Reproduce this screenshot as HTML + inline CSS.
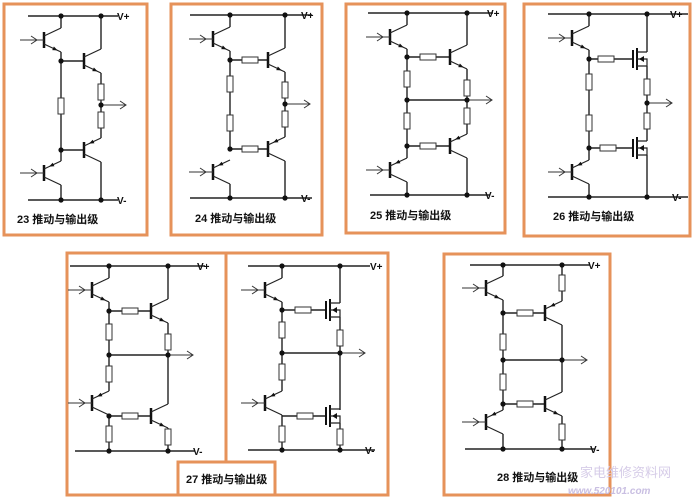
<!DOCTYPE html>
<html><head><meta charset="utf-8"><style>
html,body{margin:0;padding:0;background:#fff;}
svg{display:block;}
text{font-family:"Liberation Sans","Noto Sans CJK SC",sans-serif;fill:#111;}
</style></head><body>
<svg width="693" height="499" viewBox="0 0 693 499" xmlns="http://www.w3.org/2000/svg">
<defs>
<g id="q"><line x1="0" y1="-8" x2="0" y2="8" stroke="#111" stroke-width="2.5"/><polyline points="17,-12 0,-4" fill="none" stroke="#222" stroke-width="1.2"/><polyline points="0,4 17,12" fill="none" stroke="#222" stroke-width="1.2"/><polygon points="13.6,10.4 8.2,10.1 9.9,6.5" fill="#111"/></g>
<g id="p"><line x1="0" y1="-8" x2="0" y2="8" stroke="#111" stroke-width="2.5"/><polyline points="17,-12 0,-4" fill="none" stroke="#222" stroke-width="1.2"/><polyline points="0,4 17,12" fill="none" stroke="#222" stroke-width="1.2"/><polygon points="5,-6.4 10.4,-6.7 8.7,-10.3" fill="#111"/></g>
<g id="m"><line x1="0" y1="-9" x2="0" y2="9" stroke="#111" stroke-width="2"/><line x1="4" y1="-11" x2="4" y2="11" stroke="#111" stroke-width="2"/><path d="M4,-7H14M4,7H14M4,0H14V7" fill="none" stroke="#222" stroke-width="1.2"/><polygon points="6,0 11,-3 11,3" fill="#111"/></g>
<rect id="rv" x="-3" y="-8" width="6" height="16" fill="#fff" stroke="#333" stroke-width="1"/>
<rect id="rh" x="-8" y="-3" width="16" height="6" fill="#fff" stroke="#333" stroke-width="1"/>
<circle id="d" r="2.6" fill="#111"/>
<g id="in"><line x1="-24" y1="0" x2="0" y2="0" stroke="#333" stroke-width="1"/><polyline points="-13,-4 -7,0 -13,4" fill="none" stroke="#333" stroke-width="1"/></g>
<g id="out"><line x1="0" y1="0" x2="25" y2="0" stroke="#333" stroke-width="1"/><polyline points="19,-4 25,0 19,4" fill="none" stroke="#333" stroke-width="1"/></g>
</defs>

<g fill="none" stroke="#e6925a" stroke-width="3">
<rect x="4" y="4" width="143" height="231"/>
<rect x="171" y="4" width="151" height="231"/>
<rect x="346" y="4" width="159" height="229"/>
<rect x="524" y="4" width="166" height="232"/>
<rect x="67" y="253" width="159" height="242"/>
<rect x="226" y="253" width="162" height="242"/>
<rect x="444" y="254" width="166" height="241"/>
</g>
<rect x="178" y="462" width="97" height="33" fill="#fff" stroke="#e6925a" stroke-width="3"/>

<g stroke="#222" stroke-width="1.4" fill="none">
<path d="M28,16H118M28,200H118M61,16V28M61,52V150M61,61H84M101,16V49M101,73V138M61,150H84M61,161V150M61,185V200M101,162V200"/>
<path d="M190,15H312M190,198H312M230,15V27M230,51V149M230,60H268M285,15V48M285,72V137M230,149H268M230,184V198M285,161V198"/>
<path d="M368,13H493M370,195H490M407,13V25M407,49V158M407,57H450M467,13V45M467,69V134M407,100H467M407,146H450M407,182V195M467,158V195"/>
<path d="M548,14H688M548,197H688M589,14V26M589,50V160M589,59H633M647,14V52M647,66V141M589,148H633M589,184V197M647,155V197"/>
<path d="M70,266H205M75,451H195M109,266V278M109,302V391M109,311H151M168,266V299M168,323V404M109,355H168M109,415V451M109,416H151M168,428V451"/>
<path d="M248,266H370M248,450H375M282,266V278M282,302V391M282,310H325M340,266V303M340,317V410M282,353H340M282,415V450M282,416H325M340,423V450"/>
<path d="M470,265H590M465,449H595M503,265V276M503,300V410M503,313H545M562,265V301M562,325V392M503,360H562M503,404H545M503,434V449M562,416V449"/>
</g>

<use href="#q" x="44" y="40"/><use href="#q" x="84" y="61"/><use href="#p" x="84" y="150"/><use href="#p" x="44" y="173"/>
<use href="#in" x="44" y="40"/><use href="#in" x="44" y="173"/>
<use href="#rv" x="101" y="92"/><use href="#rv" x="101" y="120"/><use href="#rv" x="61" y="106"/>
<use href="#out" x="101" y="105"/>
<use href="#d" x="61" y="16"/><use href="#d" x="101" y="16"/><use href="#d" x="61" y="61"/><use href="#d" x="61" y="150"/><use href="#d" x="101" y="105"/><use href="#d" x="61" y="200"/><use href="#d" x="101" y="200"/>

<use href="#q" x="213" y="39"/><use href="#q" x="268" y="60"/><use href="#p" x="268" y="149"/><use href="#p" x="213" y="172"/>
<use href="#in" x="213" y="39"/><use href="#in" x="213" y="172"/>
<use href="#rh" x="250" y="60"/><use href="#rh" x="250" y="149"/><use href="#rv" x="285" y="90"/><use href="#rv" x="285" y="119"/><use href="#rv" x="230" y="84"/><use href="#rv" x="230" y="123"/>
<use href="#out" x="285" y="104"/>
<use href="#d" x="230" y="15"/><use href="#d" x="285" y="15"/><use href="#d" x="230" y="60"/><use href="#d" x="230" y="149"/><use href="#d" x="285" y="104"/><use href="#d" x="230" y="198"/><use href="#d" x="285" y="198"/>

<use href="#q" x="390" y="37"/><use href="#q" x="450" y="57"/><use href="#p" x="450" y="146"/><use href="#p" x="390" y="170"/>
<use href="#in" x="390" y="37"/><use href="#in" x="390" y="170"/>
<use href="#rh" x="428" y="57"/><use href="#rh" x="428" y="146"/><use href="#rv" x="407" y="79"/><use href="#rv" x="407" y="121"/><use href="#rv" x="467" y="88"/><use href="#rv" x="467" y="116"/>
<use href="#out" x="467" y="100"/>
<use href="#d" x="407" y="13"/><use href="#d" x="467" y="13"/><use href="#d" x="407" y="57"/><use href="#d" x="407" y="100"/><use href="#d" x="467" y="100"/><use href="#d" x="407" y="146"/><use href="#d" x="407" y="195"/><use href="#d" x="467" y="195"/>

<use href="#q" x="572" y="38"/><use href="#p" x="572" y="172"/><use href="#m" x="633" y="59"/><use href="#m" x="633" y="148"/>
<use href="#in" x="572" y="38"/><use href="#in" x="572" y="172"/>
<use href="#rh" x="606" y="59"/><use href="#rh" x="608" y="148"/><use href="#rv" x="589" y="82"/><use href="#rv" x="589" y="123"/><use href="#rv" x="647" y="87"/><use href="#rv" x="647" y="121"/>
<use href="#out" x="647" y="103"/>
<use href="#d" x="589" y="14"/><use href="#d" x="647" y="14"/><use href="#d" x="589" y="59"/><use href="#d" x="589" y="148"/><use href="#d" x="647" y="103"/><use href="#d" x="589" y="197"/><use href="#d" x="647" y="197"/>

<use href="#q" x="92" y="290"/><use href="#q" x="151" y="311"/><use href="#p" x="92" y="403"/><use href="#q" x="151" y="416"/>
<use href="#in" x="92" y="290"/><use href="#in" x="92" y="403"/>
<use href="#rh" x="130" y="311"/><use href="#rh" x="130" y="416"/><use href="#rv" x="109" y="332"/><use href="#rv" x="109" y="374"/><use href="#rv" x="168" y="342"/><use href="#rv" x="109" y="434"/><use href="#rv" x="168" y="437"/>
<use href="#out" x="168" y="355"/>
<use href="#d" x="109" y="266"/><use href="#d" x="168" y="266"/><use href="#d" x="109" y="311"/><use href="#d" x="109" y="355"/><use href="#d" x="168" y="355"/><use href="#d" x="109" y="416"/><use href="#d" x="109" y="451"/><use href="#d" x="168" y="451"/>

<use href="#q" x="265" y="290"/><use href="#p" x="265" y="403"/><use href="#m" x="326" y="310"/><use href="#m" x="326" y="416"/>
<use href="#in" x="265" y="290"/><use href="#in" x="265" y="403"/>
<use href="#rh" x="303" y="310"/><use href="#rh" x="305" y="416"/><use href="#rv" x="282" y="330"/><use href="#rv" x="282" y="372"/><use href="#rv" x="340" y="338"/><use href="#rv" x="282" y="434"/><use href="#rv" x="340" y="437"/>
<use href="#out" x="340" y="353"/>
<use href="#d" x="282" y="266"/><use href="#d" x="340" y="266"/><use href="#d" x="282" y="310"/><use href="#d" x="282" y="353"/><use href="#d" x="340" y="353"/><use href="#d" x="282" y="450"/><use href="#d" x="340" y="450"/>

<use href="#q" x="486" y="288"/><use href="#p" x="545" y="313"/><use href="#q" x="545" y="404"/><use href="#p" x="486" y="422"/>
<use href="#in" x="486" y="288"/><use href="#in" x="486" y="422"/>
<use href="#rh" x="525" y="313"/><use href="#rh" x="525" y="404"/><use href="#rv" x="503" y="342"/><use href="#rv" x="503" y="382"/><use href="#rv" x="562" y="283"/><use href="#rv" x="562" y="432"/>
<use href="#out" x="562" y="360"/>
<use href="#d" x="503" y="265"/><use href="#d" x="562" y="265"/><use href="#d" x="503" y="313"/><use href="#d" x="503" y="360"/><use href="#d" x="562" y="360"/><use href="#d" x="503" y="404"/><use href="#d" x="503" y="449"/><use href="#d" x="562" y="449"/>

<g font-size="10" font-weight="bold">
<text x="117" y="20">V+</text><text x="117" y="204">V-</text>
<text x="301" y="19">V+</text><text x="301" y="202">V-</text>
<text x="487" y="17">V+</text><text x="485" y="199">V-</text>
<text x="670" y="18">V+</text><text x="672" y="201">V-</text>
<text x="197" y="270">V+</text><text x="193" y="455">V-</text>
<text x="370" y="270">V+</text><text x="365" y="454">V-</text>
<text x="588" y="269">V+</text><text x="590" y="453">V-</text>
</g>
<g font-size="11" font-weight="600">
<text x="17" y="223">23 推动与输出级</text>
<text x="195" y="222">24 推动与输出级</text>
<text x="370" y="219">25 推动与输出级</text>
<text x="553" y="220">26 推动与输出级</text>
<text x="186" y="483" font-weight="bold">27 推动与输出级</text>
<text x="497" y="481">28 推动与输出级</text>
</g>
<text x="580" y="477" font-size="13" style="fill:#d6cce8">家电维修资料网</text>
<text x="568" y="494" font-size="10" font-weight="bold" font-style="italic" style="fill:#c9bfe2">www.520101.com</text>
</svg>
</body></html>
